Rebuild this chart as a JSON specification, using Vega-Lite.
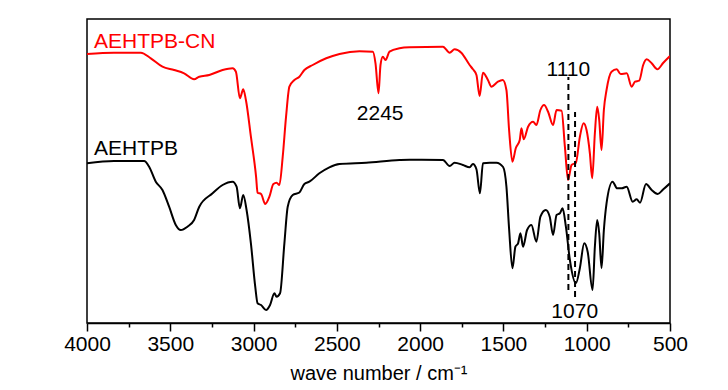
{
  "$schema": "https://vega.github.io/schema/vega-lite/v6.json",
  "width": 583,
  "height": 304,
  "autosize": "none",
  "padding": {"left": 87, "top": 19, "right": 58, "bottom": 67},
  "background": "white",
  "config": {
    "view": {"stroke": "#000000", "strokeWidth": 1.5},
    "font": "Liberation Sans"
  },
  "datasets": {
    "red": [[4000,269],[3838,270.3],[3677,270.3],[3617,264.7],[3547,256.3],[3477,253],[3417,249.7],[3357,243.7],[3326,246.3],[3266,248],[3186,253],[3126,254.7],[3106,251.3],[3082,224.7],[3062,233.7],[3046,223],[3016,186.3],[2985,146.3],[2976,130.3],[2955,129],[2930,119],[2905,126.3],[2881,139],[2862,140.3],[2845,138],[2825,166.3],[2805,206.3],[2785,236.3],[2755,243],[2725,246.3],[2695,253],[2645,258],[2564,264.7],[2484,269],[2364,271.7],[2284,271.3],[2268,259.7],[2250,229.7],[2238,258],[2224,266.3],[2208,263],[2184,271.3],[2124,274.7],[2064,275.7],[1863,276.3],[1823,270.3],[1793,273.7],[1753,270.3],[1703,258],[1683,253.7],[1662,248],[1643,227],[1623,250.3],[1593,243],[1572,236.3],[1533,241.3],[1504,243],[1482,233],[1466,193],[1446,161.3],[1426,174.7],[1402,183],[1392,194.7],[1378,183.7],[1352,196.3],[1322,201.3],[1302,198],[1278,213],[1256,218],[1232,211.3],[1202,198],[1181,213],[1151,212.3],[1131,176.3],[1112,143],[1091,158],[1065,160.3],[1041,186.3],[1019,199.7],[1001,193],[981,169.7],[967,144.7],[951,189.7],[937,216.3],[925,203],[911,173],[897,213],[881,233],[851,251.3],[820,253.7],[796,249],[760,249.7],[730,236.3],[710,241.3],[685,242.3],[661,258],[640,263.7],[610,259.7],[576,253.7],[540,260.3],[500,267]],
    "black": [[4000,159.7],[3838,162],[3657,162],[3627,156.3],[3587,141.3],[3547,133],[3507,116.3],[3467,98],[3437,93],[3397,96.3],[3357,103],[3326,116.3],[3246,129.7],[3186,138],[3126,141.3],[3102,136.3],[3082,114.7],[3062,128],[3042,113],[3016,79.7],[2990,36.3],[2976,19.7],[2955,18],[2925,13],[2901,18],[2875,29.7],[2862,26.3],[2841,29.7],[2815,79.7],[2795,116.3],[2765,128],[2725,130.5],[2695,139],[2665,141.3],[2605,149.7],[2545,155.7],[2484,159],[2324,160.3],[2124,163],[2064,163.3],[1863,163],[1823,157],[1793,160.3],[1743,158],[1703,155.7],[1683,159],[1662,153.7],[1641,129.7],[1623,159.7],[1582,160.3],[1542,160.3],[1502,156],[1482,136.3],[1466,94.3],[1446,54.7],[1428,76.3],[1412,79.7],[1398,89.7],[1382,76.3],[1358,93],[1332,98],[1302,81.3],[1278,106.3],[1246,113],[1222,106.3],[1202,88],[1181,108],[1161,109.7],[1145,114.7],[1125,96.3],[1101,63],[1065,39.7],[1041,55],[1015,79.7],[994,71],[965,33],[951,76.3],[937,103],[925,89.7],[911,54.7],[897,93],[881,119.7],[845,141.3],[817,134.7],[790,134.7],[760,136.3],[724,121.3],[700,123.7],[680,120.3],[644,139],[610,133],[574,129],[540,133.7],[500,139.7]],
    "rules": [{"w": 1110, "t1": 33, "t2": 246}, {"w": 1070, "t1": 26, "t2": 211}],
    "leftlabels": [
      {"w": 3958, "t": 275, "text": "AEHTPB-CN", "c": "AEHTPB-CN"},
      {"w": 3958, "t": 168, "text": "AEHTPB", "c": "AEHTPB"}
    ],
    "peaklabels": [
      {"w": 2240, "t": 203, "text": "2245"},
      {"w": 1110, "t": 247, "text": "1110"},
      {"w": 1072, "t": 5, "text": "1070"}
    ]
  },
  "layer": [
    {
      "data": {"name": "red"},
      "transform": [{"calculate": "datum[0]", "as": "w"}, {"calculate": "datum[1]", "as": "t"}],
      "mark": {"type": "line", "strokeWidth": 2, "color": "#ff0000", "clip": true, "interpolate": "monotone"},
      "encoding": {
        "x": {"field": "w", "type": "quantitative", "scale": {"domain": [500, 4000], "reverse": true, "nice": false, "zero": false},
          "axis": {
            "values": [4000,3750,3500,3250,3000,2750,2500,2250,2000,1750,1500,1250,1000,750,500],
            "labelExpr": "datum.value % 500 === 0 ? datum.label : ''",
            "format": "d",
            "tickSize": {"condition": {"test": "datum.value % 500 === 0", "value": 8}, "value": 4},
            "tickColor": "#000000", "tickWidth": 1.5, "domainColor": "#000000", "domainWidth": 1.5,
            "grid": false,
            "labelFont": "Liberation Sans", "labelFontSize": 21, "labelColor": "#000000", "labelPadding": 2,
            "labelFlush": false, "labelOverlap": false,
            "title": "wave number / cm⁻¹", "titleFont": "Liberation Sans", "titleFontSize": 20,
            "titleFontWeight": "normal", "titleColor": "#000000", "titlePadding": 9
          }},
        "y": {"field": "t", "type": "quantitative", "scale": {"domain": [0, 304], "nice": false, "zero": false}, "axis": null}
      }
    },
    {
      "data": {"name": "black"},
      "transform": [{"calculate": "datum[0]", "as": "w"}, {"calculate": "datum[1]", "as": "t"}],
      "mark": {"type": "line", "strokeWidth": 2, "color": "#000000", "clip": true, "interpolate": "monotone"},
      "encoding": {
        "x": {"field": "w", "type": "quantitative"},
        "y": {"field": "t", "type": "quantitative"}
      }
    },
    {
      "data": {"name": "rules"},
      "mark": {"type": "rule", "strokeWidth": 2, "strokeDash": [6, 4], "color": "#000000"},
      "encoding": {
        "x": {"field": "w", "type": "quantitative"},
        "y": {"field": "t1", "type": "quantitative"},
        "y2": {"field": "t2"}
      }
    },
    {
      "data": {"name": "leftlabels"},
      "mark": {"type": "text", "font": "Liberation Sans", "fontSize": 21, "baseline": "alphabetic", "align": "left"},
      "encoding": {
        "x": {"field": "w", "type": "quantitative"},
        "y": {"field": "t", "type": "quantitative"},
        "text": {"field": "text"},
        "color": {"field": "c", "type": "nominal", "scale": {"domain": ["AEHTPB-CN", "AEHTPB"], "range": ["#ff0000", "#000000"]}, "legend": null}
      }
    },
    {
      "data": {"name": "peaklabels"},
      "mark": {"type": "text", "font": "Liberation Sans", "fontSize": 21, "baseline": "alphabetic", "align": "center", "color": "#000000"},
      "encoding": {
        "x": {"field": "w", "type": "quantitative"},
        "y": {"field": "t", "type": "quantitative"},
        "text": {"field": "text"}
      }
    }
  ]
}
